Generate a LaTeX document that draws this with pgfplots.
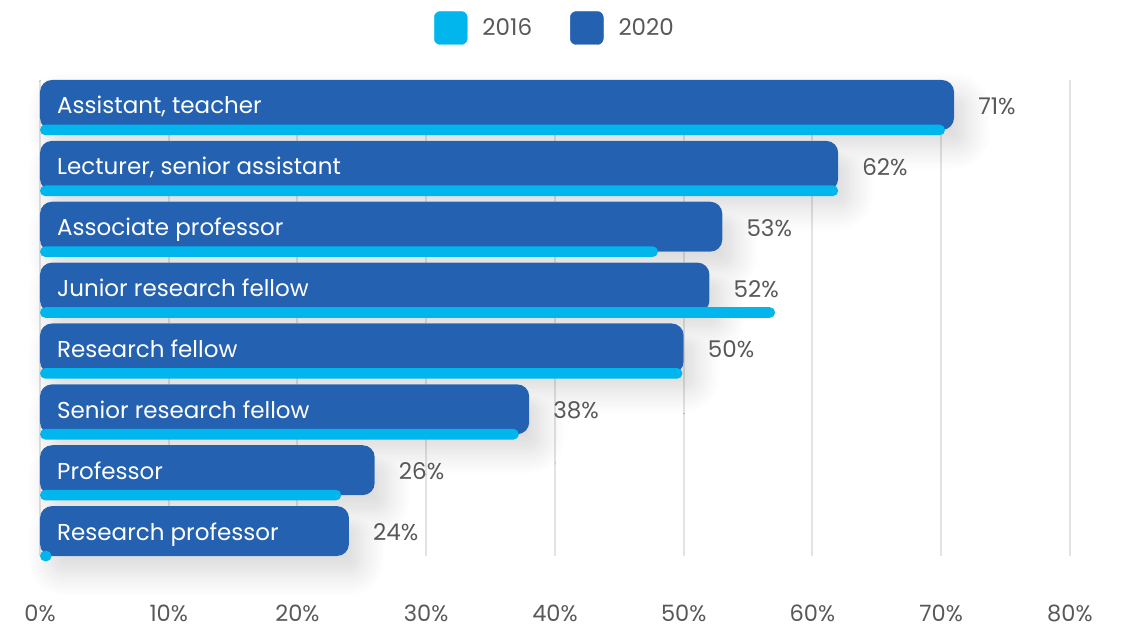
\documentclass[border=0pt]{standalone}
\usepackage{fontspec}
\setmainfont{Poppins}
\usepackage{pgfplots}
\pgfplotsset{compat=1.18}
\usetikzlibrary{shadows.blur}
\definecolor{c2016}{HTML}{00B6EC}
\definecolor{c2020}{HTML}{2461B0}
\definecolor{tgray}{HTML}{585858}
\definecolor{ggray}{HTML}{E3E3E3}
\begin{document}
\begin{tikzpicture}[x=1pt,y=1pt]
\path[use as bounding box] (0,0) rectangle (1126,627);
\begin{axis}[
  at={(40pt,71pt)}, anchor=south west,
  scale only axis, width=1030pt, height=476pt,
  xmin=0, xmax=80, ymin=-0.41, ymax=7.41,
  clip=false,
  axis line style={draw=none},
  major tick style={draw=none},
  xtick={0,10,...,80},
  xticklabel={\pgfmathprintnumber{\tick}\%},
  /pgf/number format/assume math mode=true,
  xticklabel style={anchor=base, inner sep=0pt, text depth=0pt, yshift=-65pt, text=tgray, font=\fontsize{22.5}{26}\selectfont},
  xmajorgrids, grid style={ggray, line width=2pt},
  ytick=\empty,
  legend style={at={(0.5,1)}, anchor=center, yshift=52pt, draw=none, fill=none,
    legend columns=2, font=\fontsize{23}{27}\selectfont, text=tgray,
    /tikz/every odd column/.append style={column sep=13pt},
    /tikz/every even column/.append style={column sep=36pt},
    legend cell align=left},
]
\addlegendimage{legend image code/.code={\fill[c2016, rounded corners=6pt] (0pt,-16.5pt) rectangle (33pt,16.5pt);}}
\addlegendentry{2016}
\addlegendimage{legend image code/.code={\fill[c2020, rounded corners=6pt] (0pt,-16.5pt) rectangle (33pt,16.5pt);}}
\addlegendentry{2020}
% shadows
\addplot[xbar, bar width=0.82, bar shift=0pt, draw=none, fill=white, rounded corners=12pt,
  blur shadow={shadow xshift=12pt, shadow yshift=-16pt, shadow blur radius=24pt, shadow opacity=16, shadow blur steps=12}, forget plot]
  coordinates {(71,7) (62,6) (53,5) (52,4) (50,3) (38,2) (26,1) (24,0)};
% 2020
\addplot[xbar, bar width=0.82, bar shift=0pt, draw=none, fill=c2020, rounded corners=12pt, forget plot,
  point meta=x,
  nodes near coords={\pgfmathprintnumber{\pgfplotspointmeta}\%},
  nodes near coords style={anchor=base west, inner sep=0pt, xshift=24pt, yshift=-9.5pt, text=tgray, font=\fontsize{23}{27}\selectfont, rounded corners=0pt}]
  coordinates {(71,7) (62,6) (53,5) (52,4) (50,3) (38,2) (26,1) (24,0)};
% 2016
\addplot[xbar, bar width=0.175, bar shift=0pt, draw=none, fill=c2016, rounded corners=5.3pt, forget plot]
  coordinates {(70.3,6.59) (62,5.59) (48,4.59) (57.1,3.59) (49.9,2.59) (37.2,1.59) (23.4,0.59) (0.9,-0.41)};
% category names
\addplot[only marks, mark=none, forget plot, point meta=explicit symbolic,
  nodes near coords, nodes near coords style={anchor=base west, inner sep=0pt, xshift=17pt, yshift=-9pt, text=white, font=\fontsize{23}{27}\selectfont}]
  table[meta=label] {
  x y label
  0 7 {Assistant, teacher}
  0 6 {Lecturer, senior assistant}
  0 5 {Associate professor}
  0 4 {Junior research fellow}
  0 3 {Research fellow}
  0 2 {Senior research fellow}
  0 1 {Professor}
  0 0 {Research professor}
  };
\end{axis}
\end{tikzpicture}
\end{document}
